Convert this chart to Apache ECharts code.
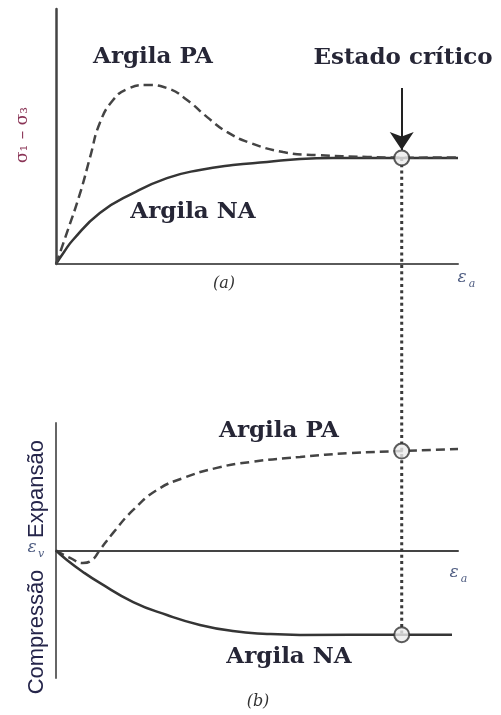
<!DOCTYPE html>
<html>
<head>
<meta charset="utf-8">
<script src="https://cdn.jsdelivr.net/npm/echarts@6/dist/echarts.min.js"></script>
<style>
  html, body { margin: 0; padding: 0; background: #fff; }
  #chart { width: 501px; height: 715px; }
</style>
</head>
<body>
<div id="chart"></div>
<script>
// (a) deviator stress against axial strain
const naStressX = [0, 0.2, 0.42, 1.09, 1.92, 2.76, 3.58, 4.40, 5.25, 6.07, 6.89, 8.6, 10];
const naStressY = [0, 0.47, 0.94, 2.0, 2.78, 3.37, 3.69, 3.88, 4.0, 4.12, 4.16, 4.16, 4.16];
const paStressX = [0, 0.27, 0.60, 0.85, 1.09, 1.42, 1.77, 2.26, 2.76, 3.26, 3.76, 4.25, 4.83, 5.65, 6.49, 7.74, 8.6, 10];
const paStressY = [0, 1.22, 2.78, 4.20, 5.53, 6.43, 6.86, 7.02, 6.90, 6.43, 5.76, 5.18, 4.75, 4.39, 4.27, 4.20, 4.17, 4.18];

// (b) volumetric strain against axial strain
const paVolX = [0, 0.35, 0.67, 0.9, 1.09, 1.42, 1.92, 2.51, 3.16, 4.0, 4.83, 6.07, 7.31, 8.6, 10];
const paVolY = [0, -0.29, -0.49, -0.37, 0.02, 0.69, 1.59, 2.37, 2.84, 3.24, 3.47, 3.67, 3.82, 3.9, 3.98];
const naVolX = [0, 0.27, 0.67, 1.09, 1.92, 2.76, 3.58, 4.40, 5.25, 6.07, 8.6, 9.85];
const naVolY = [0, -0.37, -0.84, -1.27, -2.02, -2.53, -2.92, -3.16, -3.27, -3.31, -3.3, -3.3];

// critical state
const criticalStrain = 8.6;
const criticalStress = 4.16;
const criticalVolPA = 3.9;
const criticalVolNA = -3.3;
const arrowFrom = 6.9;
const arrowTo = 4.47;

const zip = (xs, ys) => xs.map((x, i) => [x, ys[i]]);

const ink = '#353535';
const labelFont = 'bold 23px "DejaVu Serif"';
const labelColor = '#262636';
const greekColor = '#4d5b80';

const chart = echarts.init(document.getElementById('chart'), null, { renderer: 'canvas' });

const axisBase = (color, width) => ({
  axisLine: { show: true, onZero: true, lineStyle: { color: color, width: width } },
  axisTick: { show: false },
  axisLabel: { show: false },
  splitLine: { show: false }
});

chart.setOption({
  animation: false,
  grid: [
    { left: 56, top: 9, width: 402, height: 255 },
    { left: 56, top: 423, width: 402, height: 255 }
  ],
  xAxis: [
    Object.assign({ type: 'value', gridIndex: 0, min: 0, max: 10 }, axisBase('#5a5a5a', 2)),
    Object.assign({ type: 'value', gridIndex: 1, min: 0, max: 10 }, axisBase('#444', 2))
  ],
  yAxis: [
    Object.assign({ type: 'value', gridIndex: 0, min: 0, max: 10 }, axisBase('#444', 2.5)),
    Object.assign({ type: 'value', gridIndex: 1, min: -5, max: 5 }, axisBase('#666', 2))
  ],
  series: [
    {
      name: 'Argila NA (a)', type: 'line', xAxisIndex: 0, yAxisIndex: 0,
      data: zip(naStressX, naStressY), smooth: 0.5, showSymbol: false,
      lineStyle: { color: ink, width: 2.5 }
    },
    {
      name: 'Argila PA (a)', type: 'line', xAxisIndex: 0, yAxisIndex: 0,
      data: zip(paStressX, paStressY), smooth: 0.5, showSymbol: false,
      lineStyle: { color: '#444', width: 2.5, type: [9, 5] }
    },
    {
      name: 'Argila PA (b)', type: 'line', xAxisIndex: 1, yAxisIndex: 1,
      data: zip(paVolX, paVolY), smooth: 0.5, showSymbol: false,
      lineStyle: { color: '#444', width: 2.5, type: [9, 5] }
    },
    {
      name: 'Argila NA (b)', type: 'line', xAxisIndex: 1, yAxisIndex: 1,
      data: zip(naVolX, naVolY), smooth: 0.5, showSymbol: false,
      lineStyle: { color: ink, width: 2.5 }
    },
    {
      name: 'Estado crítico (a)', type: 'scatter', xAxisIndex: 0, yAxisIndex: 0, z: 5,
      data: [[criticalStrain, criticalStress]],
      symbol: 'circle', symbolSize: 15,
      itemStyle: { color: '#ececec', borderColor: '#333', borderWidth: 2 },
      markLine: {
        silent: true,
        symbol: ['none', 'arrow'],
        symbolSize: 18,
        label: { show: false },
        lineStyle: { color: '#222', width: 2, type: 'solid' },
        data: [[{ coord: [criticalStrain, arrowFrom] }, { coord: [criticalStrain, arrowTo] }]]
      }
    },
    {
      name: 'Estado crítico (b)', type: 'scatter', xAxisIndex: 1, yAxisIndex: 1, z: 5,
      data: [[criticalStrain, criticalVolPA], [criticalStrain, criticalVolNA]],
      symbol: 'circle', symbolSize: 15,
      itemStyle: { color: '#ececec', borderColor: '#333', borderWidth: 2 }
    }
  ]
});

// dotted link between the two critical points, placed through both grids' scales
const pTop = chart.convertToPixel({ gridIndex: 0 }, [criticalStrain, criticalStress]);
const pBottom = chart.convertToPixel({ gridIndex: 1 }, [criticalStrain, criticalVolNA]);

const text = (x, y, str, font, fill, extra) => Object.assign({
  type: 'text', x: x, y: y, z: 10,
  style: { text: str, font: font, fill: fill, align: 'center', verticalAlign: 'middle' }
}, extra || {});

chart.setOption({
  graphic: [
    {
      type: 'polyline', z: 1, silent: true,
      shape: { points: [pTop, pBottom] },
      style: { stroke: '#3a3a3a', lineWidth: 3, lineDash: [3, 3.3] }
    },
    text(153, 57, 'Argila PA', labelFont, labelColor),
    text(403, 58, 'Estado crítico', labelFont, labelColor),
    text(193, 212, 'Argila NA', labelFont, labelColor),
    text(279, 431, 'Argila PA', labelFont, labelColor),
    text(289, 657, 'Argila NA', labelFont, labelColor),
    // axis symbols
    text(23, 135, 'σ₁ – σ₃', '17px "DejaVu Serif"', '#8a3456', { rotation: Math.PI / 2 }),
    text(462, 278, 'ε', 'italic 17px "DejaVu Serif"', greekColor),
    text(472, 284, 'a', 'italic 11px "DejaVu Serif"', greekColor),
    text(454, 573, 'ε', 'italic 17px "DejaVu Serif"', greekColor),
    text(464, 579, 'a', 'italic 11px "DejaVu Serif"', greekColor),
    text(32, 548, 'ε', 'italic 17px "DejaVu Serif"', greekColor),
    text(41, 554, 'v', 'italic 11px "DejaVu Serif"', greekColor),
    text(37, 489, 'Expansão', '22px "Liberation Sans"', '#25254a', { rotation: Math.PI / 2 }),
    text(37, 632, 'Compressão', '22px "Liberation Sans"', '#25254a', { rotation: Math.PI / 2 }),
    // panel captions
    text(224, 284, '(a)', 'italic 16px "DejaVu Serif"', '#333'),
    text(258, 702, '(b)', 'italic 16px "DejaVu Serif"', '#333')
  ]
});
</script>
</body>
</html>
